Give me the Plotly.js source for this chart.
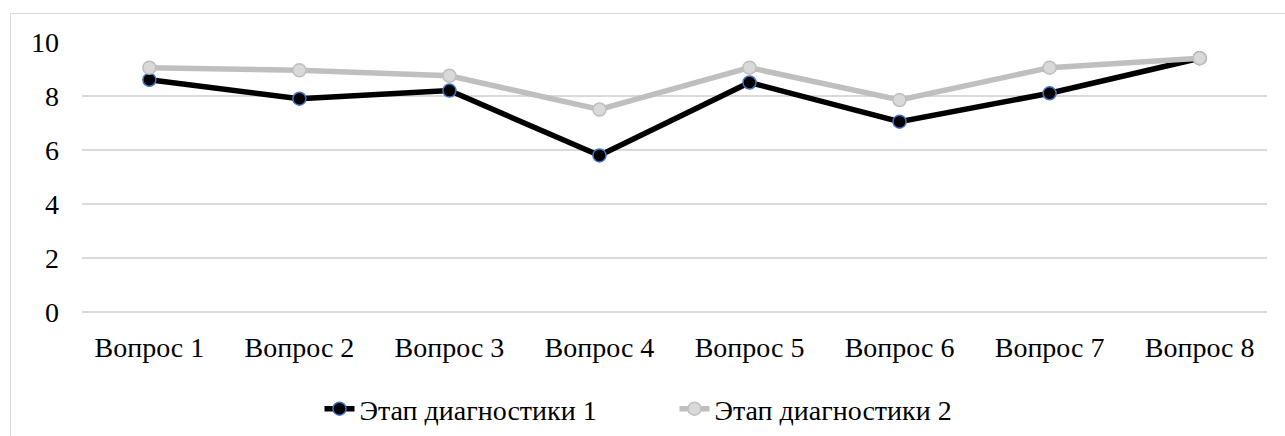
<!DOCTYPE html>
<html>
<head>
<meta charset="utf-8">
<script src="https://cdn.plot.ly/plotly-3.0.1.min.js"></script>
<style>
html,body{margin:0;padding:0;background:#fff;font-family:'Liberation Serif','Times New Roman',serif;}
#frame{position:absolute;left:10px;top:13px;width:1400px;height:600px;border:1.5px solid #d9d9d9;box-sizing:border-box;}
#chart{position:relative;width:1285px;height:436px;}
svg text, .js-plotly-plot text{font-family:'Liberation Serif','Times New Roman',serif !important;}
</style>
</head>
<body>
<div id="frame"></div>
<div id="chart"></div>
<script>
const categories = ["Вопрос 1","Вопрос 2","Вопрос 3","Вопрос 4","Вопрос 5","Вопрос 6","Вопрос 7","Вопрос 8"];
const stage1 = [8.6, 7.9, 8.2, 5.8, 8.5, 7.05, 8.1, 9.4];
const stage2 = [9.05, 8.95, 8.75, 7.5, 9.05, 7.85, 9.05, 9.4];
const seriesNames = ["Этап диагностики 1","Этап диагностики 2"];
const yTicks = [0, 2, 4, 6, 8, 10];

const FAMILY = "Liberation Serif, Times New Roman, serif";
function mkFont() { return {family: FAMILY, size: 28, color: "#000000"}; }

const traces = [
  {x: categories, y: stage1, name: seriesNames[0], type: "scatter", mode: "lines+markers",
   line: {color: "#000000", width: 5.5},
   marker: {color: "#000000", size: 13, line: {color: "#4472c4", width: 1.5}}},
  {x: categories, y: stage2, name: seriesNames[1], type: "scatter", mode: "lines+markers",
   line: {color: "#bfbfbf", width: 5.5},
   marker: {color: "#d9d9d9", size: 13, line: {color: "#bfbfbf", width: 1.5}}}
];

const layout = {
  width: 1285, height: 436,
  margin: {l: 82, r: 18, t: 42, b: 124, autoexpand: false},
  paper_bgcolor: "rgba(0,0,0,0)", plot_bgcolor: "rgba(0,0,0,0)",
  font: mkFont(),
  showlegend: true,
  legend: {orientation: "h", x: 0.5, xanchor: "center", yref: "container", y: 0.062, yanchor: "middle",
           font: mkFont(), bgcolor: "rgba(0,0,0,0)", itemwidth: 30, entrywidth: 310},
  xaxis: {type: "category", showgrid: false, zeroline: false, showline: false, ticks: "",
          tickfont: mkFont(), ticklabelstandoff: 16, automargin: false, fixedrange: true},
  yaxis: {range: [0, 10], tickvals: yTicks, ticktext: yTicks.map(String), showgrid: true,
          gridcolor: "#d9d9d9", gridwidth: 1.5, zeroline: true, zerolinecolor: "#d9d9d9", zerolinewidth: 1.5,
          showline: false, ticks: "",
          tickfont: mkFont(), ticklabelstandoff: 22, automargin: false, fixedrange: true}
};

function forceSerif() {
  document.querySelectorAll("#chart text").forEach(function (t) {
    t.style.setProperty("font-family", "'Liberation Serif', 'Times New Roman', serif", "important");
    t.setAttribute("font-family", "Liberation Serif");
  });
}

Plotly.newPlot("chart", traces, layout, {staticPlot: true}).then(function () {
  forceSerif();
  setTimeout(forceSerif, 50);
});
forceSerif();
</script>
</body>
</html>
